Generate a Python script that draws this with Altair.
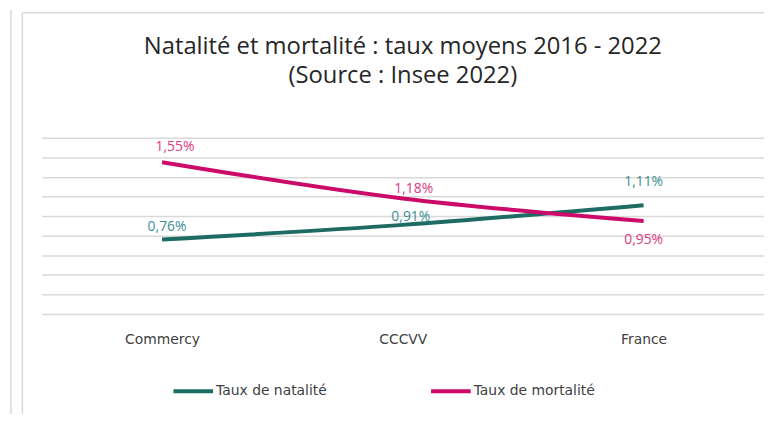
import altair as alt
import pandas as pd

categories = ["Commercy", "CCCVV", "France"]
series = ["Taux de natalité", "Taux de mortalité"]
natalite = [0.0076, 0.0091, 0.0111]
mortalite = [0.0155, 0.0118, 0.0095]
natalite_labels = ["0,76%", "0,91%", "1,11%"]
mortalite_labels = ["1,55%", "1,18%", "0,95%"]
grid_values = [0.0, 0.002, 0.004, 0.006, 0.008, 0.010, 0.012, 0.014, 0.016, 0.018]

rows = []
for c, v, l in zip(categories, natalite, natalite_labels):
    rows.append({"cat": c, "serie": series[0], "val": v, "lab": l})
for c, v, l in zip(categories, mortalite, mortalite_labels):
    rows.append({"cat": c, "serie": series[1], "val": v, "lab": l})
df = pd.DataFrame(rows)

TFONT = "Open Sans"
FONT = "Open Sans"
AFONT = "DejaVu Sans"
NAT_LINE = "#1E6B64"
MORT_LINE = "#CC0A6A"
NAT_LAB = "#3A8F93"
MORT_LAB = "#DE3A80"
GRID = "#D9D9D9"

x_enc = alt.X("cat:N", sort=categories,
              scale=alt.Scale(type="point", padding=0.5),
              axis=alt.Axis(title=None, labelAngle=0, ticks=False, domain=False, grid=False,
                            labelFontSize=14, labelColor="#404040", labelFont=AFONT,
                            labelPadding=19))
y_enc = alt.Y("val:Q", scale=alt.Scale(domain=[0, 0.018], nice=False, zero=True),
              axis=alt.Axis(title=None, values=grid_values, tickCount=20, labels=False,
                            ticks=False, domain=False, grid=True, gridColor=GRID,
                            gridWidth=1.5))

base = alt.Chart(df)

lines = base.mark_line(strokeWidth=4, interpolate="monotone").encode(
    x=x_enc, y=y_enc,
    color=alt.Color("serie:N", scale=alt.Scale(domain=series, range=[NAT_LINE, MORT_LINE]),
                    legend=alt.Legend(title=None, orient="none", direction="horizontal",
                                      legendX=131, legendY=234,
                                      symbolType="stroke", symbolSize=1600,
                                      symbolStrokeWidth=4, labelOffset=1,
                                      labelFontSize=14, labelFont=AFONT, labelColor="#404040",
                                      columnPadding=97)),
)

label_specs = [
    (series[0], "Commercy", 5, -13, NAT_LAB),
    (series[0], "CCCVV", 8, -8, NAT_LAB),
    (series[0], "France", 0, -23, NAT_LAB),
    (series[1], "Commercy", 13, -15, MORT_LAB),
    (series[1], "CCCVV", 11, -9, MORT_LAB),
    (series[1], "France", 0, 19, MORT_LAB),
]
label_layers = []
for s, c, dx, dy, col in label_specs:
    label_layers.append(
        base.transform_filter(
            (alt.datum.serie == s) & (alt.datum.cat == c)
        ).mark_text(dx=dx, dy=dy, fontSize=14, font=FONT, color=col, baseline="middle").encode(
            x=alt.X("cat:N", sort=categories), y="val:Q", text="lab:N"
        )
    )

frame_df = pd.DataFrame({"a": [0]})
frame = alt.Chart(frame_df)
frame_rules = [
    frame.mark_rule(color=GRID, strokeWidth=1.5).encode(
        x=alt.value(-31), y=alt.value(-129), y2=alt.value(290)),
    frame.mark_rule(color=GRID, strokeWidth=1.5).encode(
        x=alt.value(-19.5), y=alt.value(-126), y2=alt.value(290)),
    frame.mark_rule(color=GRID, strokeWidth=1.5).encode(
        x=alt.value(-19.5), x2=alt.value(740), y=alt.value(-126)),
]

chart = alt.layer(*frame_rules, lines, *label_layers).properties(
    width=729, height=178,
    autosize=alt.AutoSizeParams(type="none"),
    padding={"left": 34, "top": 129, "right": 0, "bottom": 99},
    title=alt.TitleParams(
        text=["Natalité et mortalité : taux moyens 2016 - 2022", "(Source : Insee 2022)"],
        font=TFONT, fontSize=24, fontWeight="normal", color="#262626",
        anchor="middle", frame="group", offset=-80, lineHeight=30,
    ),
).configure_view(stroke=None)

chart.save("out.html", embed_options={"renderer": "svg", "actions": False})
